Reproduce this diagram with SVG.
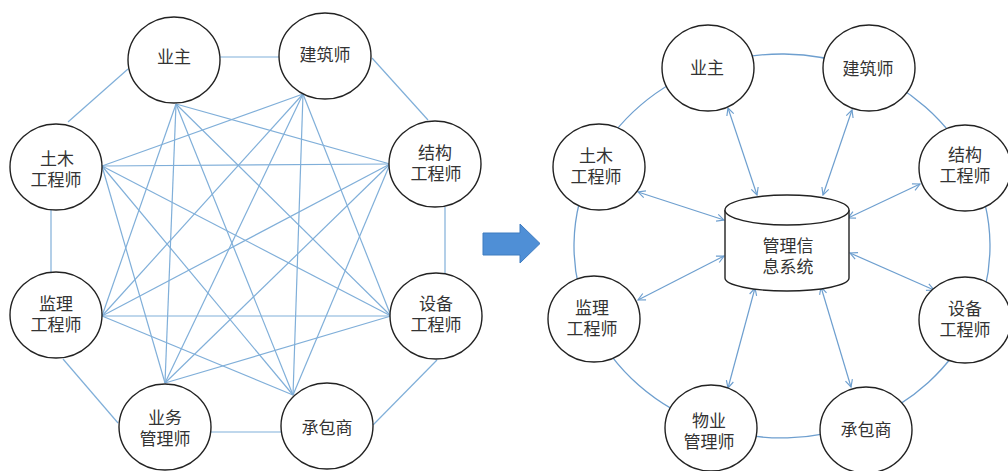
<svg xmlns="http://www.w3.org/2000/svg" width="1008" height="471" viewBox="0 0 1008 471">
<defs>
<style>
.n{fill:#fff;stroke:#222;stroke-width:1.4}
.t{font-family:"Liberation Sans","Noto Sans CJK SC",sans-serif;font-size:17px;fill:#333;text-anchor:middle}
.e{stroke:#80afd9;stroke-width:1.2;fill:none}
.a{stroke:#6e9fcf;stroke-width:1.2;fill:none;marker-start:url(#ah);marker-end:url(#ah)}
.r{stroke:#6e9fcf;stroke-width:1.3;fill:none}
</style>
<marker id="ah" viewBox="0 0 10 10" refX="9" refY="5" markerWidth="9" markerHeight="9" markerUnits="userSpaceOnUse" orient="auto-start-reverse">
<path d="M1,1 L9,5 L1,9" fill="none" stroke="#6e9fcf" stroke-width="1.3"/>
</marker>
</defs>
<rect width="1008" height="471" fill="#fff"/>

<g id="left-connectors">
<line class="e" x1="220" y1="57" x2="279" y2="57"/>
<line class="e" x1="372" y1="58" x2="428" y2="120"/>
<line class="e" x1="445" y1="207" x2="445" y2="273"/>
<line class="e" x1="437" y1="360" x2="373" y2="425"/>
<line class="e" x1="211" y1="432" x2="281" y2="432"/>
<line class="e" x1="118" y1="423" x2="63" y2="359"/>
<line class="e" x1="51" y1="272" x2="51" y2="210"/>
<line class="e" x1="68" y1="122" x2="128" y2="69"/>
<line class="e" x1="176" y1="104" x2="390" y2="164"/>
<line class="e" x1="176" y1="104" x2="391" y2="316"/>
<line class="e" x1="176" y1="104" x2="293" y2="395"/>
<line class="e" x1="176" y1="104" x2="165" y2="383"/>
<line class="e" x1="176" y1="104" x2="102" y2="316"/>
<line class="e" x1="303" y1="94" x2="102" y2="166"/>
<line class="e" x1="303" y1="94" x2="102" y2="316"/>
<line class="e" x1="303" y1="94" x2="165" y2="383"/>
<line class="e" x1="303" y1="94" x2="293" y2="395"/>
<line class="e" x1="303" y1="94" x2="391" y2="316"/>
<line class="e" x1="390" y1="164" x2="102" y2="166"/>
<line class="e" x1="390" y1="164" x2="102" y2="316"/>
<line class="e" x1="390" y1="164" x2="165" y2="383"/>
<line class="e" x1="390" y1="164" x2="293" y2="395"/>
<line class="e" x1="391" y1="316" x2="102" y2="166"/>
<line class="e" x1="391" y1="316" x2="102" y2="316"/>
<line class="e" x1="391" y1="316" x2="165" y2="383"/>
<line class="e" x1="293" y1="395" x2="102" y2="166"/>
<line class="e" x1="293" y1="395" x2="102" y2="316"/>
<line class="e" x1="165" y1="383" x2="102" y2="166"/>
</g>

<g id="L-yezhu"><ellipse class="n" cx="174" cy="60" rx="46" ry="43"/><text class="t" x="174" y="63">业主</text></g>
<g id="L-jianzhushi"><ellipse class="n" cx="325" cy="56" rx="46" ry="43"/><text class="t" x="325" y="61">建筑师</text></g>
<g id="L-tumu"><ellipse class="n" cx="56" cy="167" rx="46" ry="43"/><text class="t"><tspan x="57" y="164.5">土木</tspan><tspan x="56" y="185.5">工程师</tspan></text></g>
<g id="L-jiegou"><ellipse class="n" cx="435" cy="164" rx="46" ry="43"/><text class="t"><tspan x="435" y="158.5">结构</tspan><tspan x="436" y="179.5">工程师</tspan></text></g>
<g id="L-jianli"><ellipse class="n" cx="56" cy="315" rx="46" ry="43"/><text class="t"><tspan x="56" y="310">监理</tspan><tspan x="56" y="331">工程师</tspan></text></g>
<g id="L-shebei"><ellipse class="n" cx="436" cy="316" rx="46" ry="43"/><text class="t"><tspan x="436" y="310">设备</tspan><tspan x="436" y="331">工程师</tspan></text></g>
<g id="L-yewu"><ellipse class="n" cx="165" cy="427" rx="46" ry="43"/><text class="t"><tspan x="165" y="423.5">业务</tspan><tspan x="165" y="444.5">管理师</tspan></text></g>
<g id="L-chengbao"><ellipse class="n" cx="327" cy="426" rx="46" ry="43"/><text class="t" x="327" y="434">承包商</text></g>

<g id="big-arrow"><polygon points="483,233 520,233 520,224 540,243.5 520,263 520,255 483,255" fill="#4f8fd6" stroke="#3f7cc0" stroke-width="1"/></g>

<g id="right-connectors">
<path class="r" d="M708.1,66.5 A208 192 0 0 1 859.9,68"/>
<path class="r" d="M859.9,68 A208 192 0 0 1 970.8,165.5"/>
<path class="r" d="M970.8,165.5 A208 192 0 0 1 972.6,322.9"/>
<path class="r" d="M972.6,322.9 A208 192 0 0 1 863.3,422.7"/>
<path class="r" d="M863.3,422.7 A208 192 0 0 1 710.9,426.4"/>
<path class="r" d="M710.9,426.4 A208 192 0 0 1 590.5,321"/>
<path class="r" d="M590.5,321 A208 192 0 0 1 593.5,164.9"/>
<path class="r" d="M593.5,164.9 A208 192 0 0 1 708.1,66.5"/>
<line class="a" x1="728" y1="108" x2="757" y2="195"/>
<line class="a" x1="852" y1="110" x2="823" y2="195"/>
<line class="a" x1="638" y1="192" x2="724" y2="220"/>
<line class="a" x1="920" y1="184" x2="848" y2="218"/>
<line class="a" x1="638" y1="300" x2="724" y2="256"/>
<line class="a" x1="934" y1="290" x2="850" y2="253"/>
<line class="a" x1="728" y1="388" x2="755" y2="288"/>
<line class="a" x1="851" y1="387" x2="821" y2="287"/>
</g>

<g id="R-mis">
<path class="n" d="M725,210 L725,278 A62 13 0 0 0 849,278 L849,210"/>
<ellipse class="n" cx="787" cy="210" rx="62" ry="15"/>
<text class="t"><tspan x="788" y="251.5">管理信</tspan><tspan x="788" y="272.5">息系统</tspan></text>
</g>
<g id="R-yezhu"><ellipse class="n" cx="708" cy="68" rx="46" ry="43"/><text class="t" x="707" y="74">业主</text></g>
<g id="R-jianzhushi"><ellipse class="n" cx="869" cy="68" rx="46" ry="43"/><text class="t" x="868" y="75">建筑师</text></g>
<g id="R-tumu"><ellipse class="n" cx="599" cy="167" rx="46" ry="43"/><text class="t"><tspan x="596" y="161.5">土木</tspan><tspan x="596" y="182.5">工程师</tspan></text></g>
<g id="R-jiegou"><ellipse class="n" cx="965" cy="168" rx="46" ry="43"/><text class="t"><tspan x="965" y="160.5">结构</tspan><tspan x="965" y="181.5">工程师</tspan></text></g>
<g id="R-jianli"><ellipse class="n" cx="594" cy="319" rx="46" ry="43"/><text class="t"><tspan x="592" y="313.5">监理</tspan><tspan x="592" y="334.5">工程师</tspan></text></g>
<g id="R-shebei"><ellipse class="n" cx="965" cy="320" rx="46" ry="43"/><text class="t"><tspan x="965" y="314.5">设备</tspan><tspan x="965" y="335.5">工程师</tspan></text></g>
<g id="R-wuye"><ellipse class="n" cx="711" cy="428" rx="46" ry="43"/><text class="t"><tspan x="709" y="426.5">物业</tspan><tspan x="709" y="447.5">管理师</tspan></text></g>
<g id="R-chengbao"><ellipse class="n" cx="866" cy="430" rx="46" ry="43"/><text class="t" x="866" y="436">承包商</text></g>
</svg>
